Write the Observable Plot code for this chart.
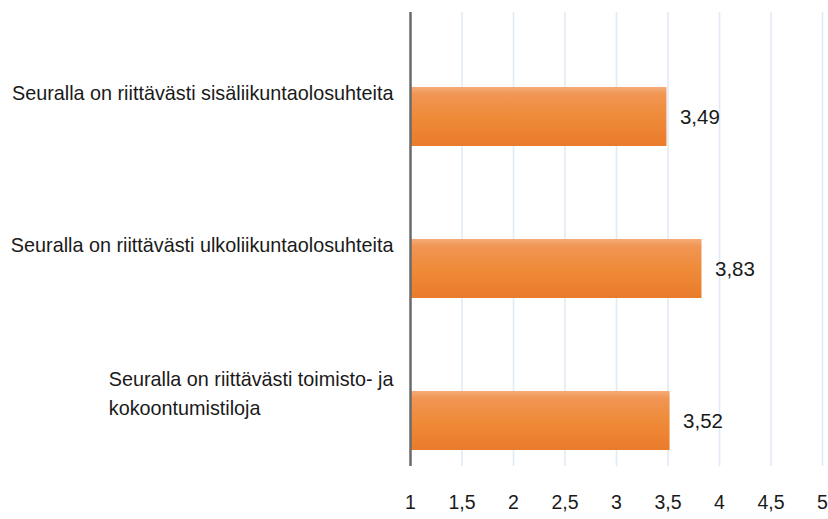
<!DOCTYPE html>
<html>
<head>
<meta charset="utf-8">
<script src="https://cdn.jsdelivr.net/npm/d3@7"></script>
<script src="https://cdn.jsdelivr.net/npm/@observablehq/plot@0.6"></script>
<style>
  html, body { margin: 0; padding: 0; background: #fff; }
  #chart { width: 828px; height: 519px; }
</style>
</head>
<body>
<div id="chart"></div>
<script>
// Data
const categories = [
  "Seuralla on riittävästi sisäliikuntaolosuhteita",
  "Seuralla on riittävästi ulkoliikuntaolosuhteita",
  "Seuralla on riittävästi toimisto- ja\nkokoontumistiloja"
];
const values = [3.49, 3.83, 3.52];
const xTicks = [1, 1.5, 2, 2.5, 3, 3.5, 4, 4.5, 5];

const data = categories.map((c, i) => ({category: c, value: values[i]}));
const fmtComma = d => String(d).replace(".", ",");
const fmtValue = d => d3.format(".2f")(d).replace(".", ",");

const FONT = "'Liberation Sans', Arial, Helvetica, sans-serif";
const labelSize = 19.8;
const ctx = document.createElement("canvas").getContext("2d");
ctx.font = `${labelSize}px 'Liberation Sans'`;
const blockWidth = c => Math.max(...c.split("\n").map(l => ctx.measureText(l).width));

const labelMarks = categories.map(c => Plot.text([c], {
  x: () => 1,
  y: d => d,
  text: d => d,
  textAnchor: "start",
  lineAnchor: "middle",
  lineHeight: 1.45,
  dx: -17 - blockWidth(c),
  dy: c.includes("\n") ? -30 : -26,
  fontSize: labelSize,
  fill: "#1a1a1a"
}));

const svg = Plot.plot({
  width: 828,
  height: 519,
  marginLeft: 410,
  marginRight: 6,
  marginTop: 12,
  marginBottom: 53,
  style: {fontFamily: FONT, fontSize: "19px", color: "#1a1a1a", background: "#fff"},
  x: {domain: [1, 5]},
  y: {domain: categories, range: [40, 496], paddingInner: 0.615, paddingOuter: 0.3075, axis: null},
  marks: [
    Plot.ruleX(xTicks.filter(t => t !== 1), {stroke: "#e2eaf6", strokeWidth: 1.6}),
    Plot.barX(data, {x1: () => 1, x2: "value", y: "category", fill: "url(#barGrad)"}),
    Plot.ruleX([1], {stroke: "#6a6a6a", strokeWidth: 2.5}),
    Plot.text(data, {
      x: "value", y: "category", text: d => fmtValue(d.value),
      textAnchor: "start", dx: 13, fontSize: 20.5, fill: "#1a1a1a"
    }),
    ...labelMarks,
    Plot.axisX({ticks: xTicks, tickSize: 0, tickPadding: 29, tickFormat: fmtComma, fontSize: 19.5, label: null})
  ]
});

// vertical gradient for bars
const ns = "http://www.w3.org/2000/svg";
const defs = document.createElementNS(ns, "defs");
const grad = document.createElementNS(ns, "linearGradient");
grad.setAttribute("id", "barGrad");
grad.setAttribute("x1", "0"); grad.setAttribute("y1", "0");
grad.setAttribute("x2", "0"); grad.setAttribute("y2", "1");
[["0", "#f4ab78"], ["0.12", "#f19654"], ["0.5", "#ef8b3a"], ["1", "#e97c2b"]].forEach(([o, c]) => {
  const s = document.createElementNS(ns, "stop");
  s.setAttribute("offset", o);
  s.setAttribute("stop-color", c);
  grad.appendChild(s);
});
defs.appendChild(grad);
svg.insertBefore(defs, svg.firstChild);

document.getElementById("chart").appendChild(svg);
</script>
</body>
</html>
